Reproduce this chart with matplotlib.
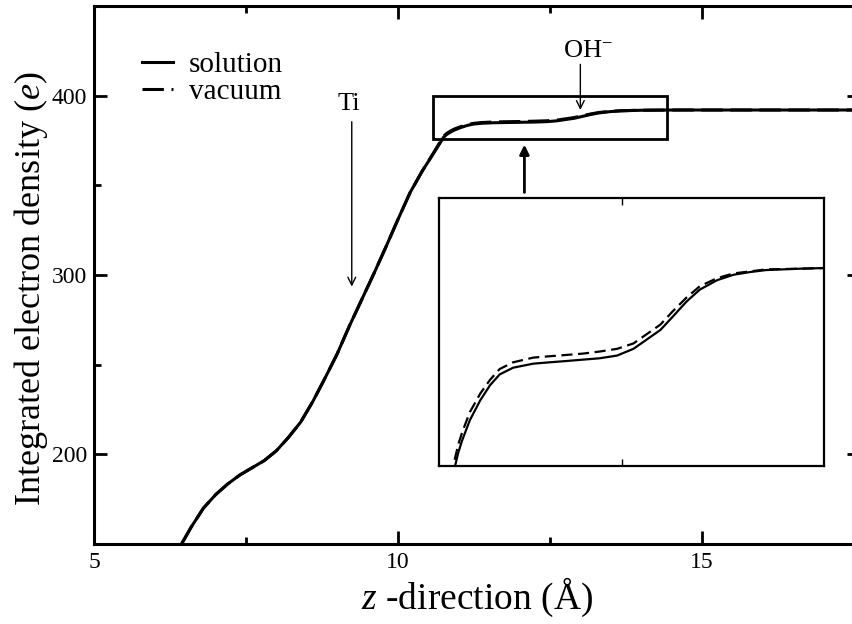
import numpy as np
import matplotlib
matplotlib.use('Agg')
from matplotlib import pyplot as plt
from matplotlib.patches import Rectangle

plt.rcParams['font.family'] = ['Liberation Serif', 'DejaVu Serif']
plt.rcParams['mathtext.fontset'] = 'custom'
plt.rcParams['mathtext.rm'] = 'Liberation Serif'
plt.rcParams['mathtext.it'] = 'Liberation Serif:italic'

# integrated electron density along z
z = [6.44, 6.6, 6.8, 7.0, 7.2, 7.4, 7.6, 7.8, 8.0, 8.2, 8.4, 8.6, 8.8, 9.0, 9.2,
     9.4, 9.6, 9.8, 10.0, 10.2, 10.4, 10.5, 10.6, 10.7, 10.75, 10.8, 10.84, 10.92,
     11.03, 11.13, 11.23, 11.37, 11.58, 11.75, 11.93, 12.1, 12.27, 12.45, 12.62,
     12.76, 12.9, 13.03, 13.17, 13.31, 13.49, 13.66, 13.83, 14.0, 14.35, 14.6,
     15.0, 16.0, 17.6]
solution = [150, 159.5, 170, 177.5, 183.5, 188.5, 192.5, 196.5, 202, 209.5, 218,
            229.5, 242.5, 256, 271.5, 286, 300.5, 315.5, 331, 346, 358, 363.3,
            368.6, 374.0, 376.8, 378.3, 379.2, 380.7, 382.2, 383.3, 384.1, 384.6,
            384.9, 385.0, 385.1, 385.2, 385.3, 385.5, 386.0, 386.7, 387.4, 388.4,
            389.5, 390.4, 391.1, 391.5, 391.7, 391.85, 391.95, 392.0, 392.0,
            392.0, 392.0]
vacuum = [150, 159.5, 170, 177.5, 183.5, 188.5, 192.5, 196.5, 202, 209.5, 218,
          229.5, 242.5, 256, 271.5, 286, 300.5, 315.5, 331, 346, 358, 363.4,
          369.0, 374.6, 377.4, 378.9, 379.8, 381.3, 382.7, 383.7, 384.5, 385.0,
          385.35, 385.45, 385.55, 385.65, 385.8, 386.0, 386.4, 387.1, 387.8, 388.8,
          389.8, 390.65, 391.25, 391.6, 391.75, 391.9, 391.95, 392.0, 392.0,
          392.0, 392.0]

fig = plt.figure(figsize=(8.53, 6.24), dpi=100)
ax = fig.add_axes([0.1102, 0.1282, 0.898, 0.8622])

ax.plot(z, vacuum, color='black', lw=2.2, dashes=(7, 2.5), label='vacuum')
ax.plot(z, solution, color='black', lw=2.2, label='solution')

ax.set_xlim(5, 17.6)
ax.set_ylim(150, 450)
ax.set_xticks([5, 10, 15])
ax.set_xticks([7.5, 12.5, 17.5], minor=True)
ax.set_yticks([200, 300, 400])
ax.set_yticks([250, 350], minor=True)
ax.tick_params(which='both', direction='in', top=True, right=True, labelsize=17, width=2)
ax.tick_params(which='major', length=9.5)
ax.tick_params(which='minor', length=5)
ax.tick_params(axis='y', pad=5)
ax.tick_params(axis='x', pad=6)
for s in ax.spines.values():
    s.set_linewidth(2.2)

ax.set_xlabel('$z$ -direction (Å)', fontsize=27, labelpad=2)
ax.set_ylabel('Integrated electron density ($e$)', fontsize=26)
ax.yaxis.set_label_coords(-0.058, 0.475)

h, l = ax.get_legend_handles_labels()
ax.legend([h[1], h[0]], [l[1], l[0]], loc='upper left', bbox_to_anchor=(0.0627, 0.915),
          frameon=False, fontsize=21, handlelength=1.05, handletextpad=0.55,
          labelspacing=0.02, borderaxespad=0, borderpad=0)

# zoom box and annotations
ax.add_patch(Rectangle((10.57, 375.8), 3.86, 24, fill=False, lw=2, ec='black', zorder=3))
ax.annotate('', xy=(12.08, 374.2), xytext=(12.08, 344.5),
            arrowprops=dict(arrowstyle='-|>', lw=2, color='black', mutation_scale=14))
ax.text(9.2, 395.5, 'Ti', fontsize=19, ha='center', va='center')
ax.annotate('', xy=(9.24, 292), xytext=(9.24, 387),
            arrowprops=dict(arrowstyle='->', lw=1, color='black', mutation_scale=14))
ax.text(13.12, 425, 'OH$^{\\mathregular{-}}$', fontsize=19, ha='center', va='center')
ax.annotate('', xy=(13.0, 390.5), xytext=(13.0, 419),
            arrowprops=dict(arrowstyle='->', lw=1, color='black', mutation_scale=14))

# inset
axin = fig.add_axes([0.5147, 0.2532, 0.4513, 0.4295])
axin.plot(z, vacuum, color='black', lw=1.6, dashes=(5, 2.5))
axin.plot(z, solution, color='black', lw=1.6)
axin.set_xlim(10.6, 14.6)
axin.set_ylim(377.3, 397.2)
axin.set_xticks([12.5])
axin.set_yticks([])
axin.tick_params(axis='x', direction='in', top=True, labelbottom=False, length=5, width=1)
for s in axin.spines.values():
    s.set_linewidth(1.6)

plt.savefig('out.png', dpi=100)
